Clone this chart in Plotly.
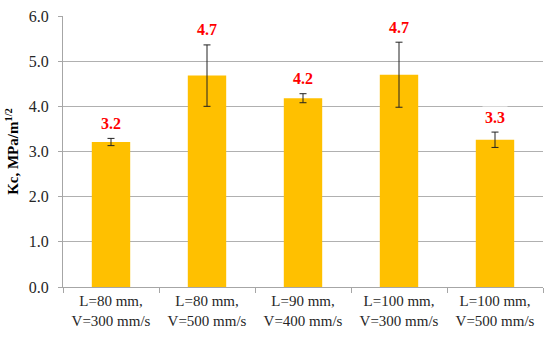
import plotly.graph_objects as go

# regimes and fracture toughness values
categories = ["L=80 mm,<br>V=300 mm/s", "L=80 mm,<br>V=500 mm/s", "L=90 mm,<br>V=400 mm/s",
              "L=100 mm,<br>V=300 mm/s", "L=100 mm,<br>V=500 mm/s"]
kc = [3.21, 4.68, 4.18, 4.70, 3.26]
kc_err = [0.08, 0.68, 0.10, 0.72, 0.17]
labels = ["3.2", "4.7", "4.2", "4.7", "3.3"]

serif = "Liberation Serif, Times New Roman, serif"

fig = go.Figure()
fig.add_trace(go.Bar(
    x=categories, y=kc,
    marker=dict(color="#FFC000", line=dict(width=0)),
    error_y=dict(type="data", array=kc_err, visible=True,
                 color="#222222", thickness=1, width=3.5),
    hoverinfo="x+y",
))

# value labels above error bars, with white box that breaks the gridlines
for c, v, e, t in zip(categories, kc, kc_err, labels):
    fig.add_annotation(x=c, y=v + e, text="<b>%s</b>" % t, showarrow=False,
                       yanchor="middle", yshift=15, bgcolor="white", borderpad=2,
                       font=dict(family=serif, size=16, color="#FF0000"))

fig.update_layout(
    width=550, height=346,
    margin=dict(l=63, r=7, t=16, b=59),
    paper_bgcolor="white", plot_bgcolor="white",
    bargap=0.6, showlegend=False,
    font=dict(family=serif, size=15, color="#262626"),
)
fig.update_xaxes(
    automargin=False,
    showline=True, linecolor="#A6A6A6", linewidth=1,
    ticks="outside", tickson="boundaries", ticklen=5, tickcolor="#A6A6A6",
    tickfont=dict(family=serif, size=15, color="#262626"),
    showgrid=False,
)
fig.update_yaxes(
    automargin=False,
    range=[0, 6], dtick=1, tickformat=".1f",
    showline=True, linecolor="#A6A6A6", linewidth=1,
    ticks="outside", ticklen=4, tickcolor="#A6A6A6",
    showgrid=True, gridcolor="#B0B0B0", gridwidth=1,
    zeroline=False,
    ticklabelstandoff=6,
    tickfont=dict(family=serif, size=16, color="#262626"),
    title=dict(text="<b>Kc, MPa/m<sup>1/2</sup></b>", standoff=6,
               font=dict(family=serif, size=15, color="#000000")),
)

# drop the default page margin so the figure sits at the window's corner
fig.write_html("out.html", config={"displayModeBar": False},
               post_script="document.body.style.margin='0';")
